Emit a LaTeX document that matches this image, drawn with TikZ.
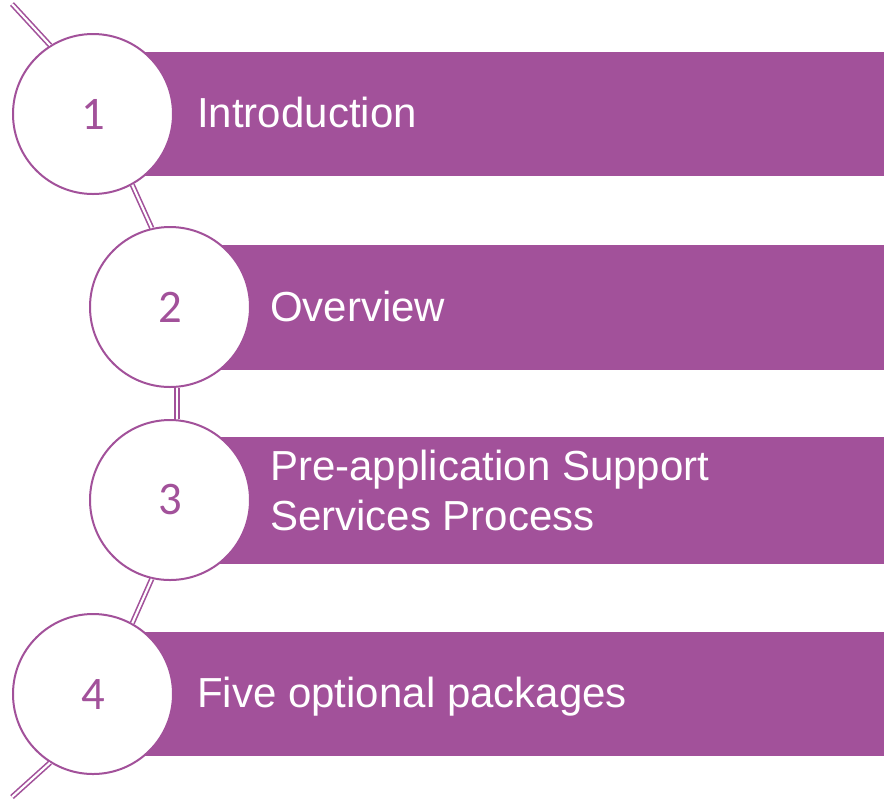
\documentclass[tikz,border=0pt]{standalone}
\usepackage{fontspec}
\setmainfont{Liberation Sans}
\newfontfamily\numfont{Carlito}
\definecolor{plum}{HTML}{A2519A}
\tikzset{
% Circles that carry the numbers, labels on the bars, double links along the arc
num circle/.style={circle,draw=plum,line width=1.5pt,fill=white,minimum size=120pt,inner sep=0pt,text=plum,font=\numfont\fontsize{35}{40}\selectfont},
bar label/.style={anchor=base west,text=white,align=left,inner sep=0pt,font=\fontsize{31.5}{37.5}\selectfont},
link/.style={draw=plum,line width=1.2pt,double=white,double distance=1.6pt}
}
\begin{document}
\begin{tikzpicture}[x=0.75pt,y=-0.75pt]
      \useasboundingbox (0,0) rectangle (884,801);
      % The bars
      \fill[plum] (93,52) rectangle (884,176);
      \fill[plum] (170,245) rectangle (884,370);
      \fill[plum] (170,437) rectangle (884,564);
      \fill[plum] (93,632) rectangle (884,756);
      % The circles
      \node(c1)[num circle] at (93,114) {1};
      \node(c2)[num circle] at (170,307) {2};
      \node(c3)[num circle] at (170,500) {3};
      \node(c4)[num circle] at (93,694) {4};
      % Free ends of the arc
      \coordinate (top) at (12,4);
      \coordinate (bottom) at (12,797);
      % Links
      \draw[link] (top) -- (c1.122);
      \draw[link] (c1.-61) -- (c2.103);
      \draw[link] (c2.-85) -- (c3.85);
      \draw[link] (c3.-103) -- (c4.61);
      \draw[link] (c4.-122) -- (bottom);
      % Texts on the bars (base is the last line)
      \node(t1)[bar label] at (197,127) {Introduction};
      \node(t2)[bar label] at (270,321) {Overview};
      \node(t3)[bar label] at (270,530) {Pre-application Support\\Services Process};
      \node(t4)[bar label] at (197,707) {Five optional packages};
\end{tikzpicture}
\end{document}
